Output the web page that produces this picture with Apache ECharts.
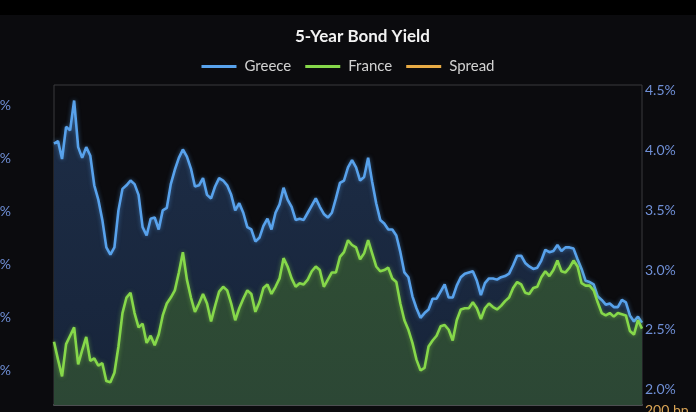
<!DOCTYPE html>
<html>
<head>
<meta charset="utf-8">
<style>
html,body{margin:0;padding:0;background:#0b0b0e;}
#chart{width:696px;height:412px;}
</style>
<script src="https://cdn.jsdelivr.net/npm/echarts@6/dist/echarts.min.js"></script>
</head>
<body>
<div id="chart"></div>
<script>
// Greece 5-year yield (%)
const greece = [
4.06,4.08,3.93,4.20,4.17,4.42,4.03,3.94,4.03,3.96,
3.71,3.59,3.42,3.19,3.13,3.19,3.50,3.68,3.71,3.75,
3.72,3.63,3.36,3.29,3.43,3.44,3.34,3.50,3.52,3.72,
3.84,3.94,4.01,3.95,3.85,3.70,3.71,3.77,3.63,3.60,
3.70,3.77,3.75,3.71,3.63,3.50,3.56,3.48,3.36,3.34,
3.24,3.27,3.37,3.43,3.34,3.48,3.55,3.69,3.59,3.53,
3.42,3.43,3.42,3.48,3.54,3.60,3.53,3.47,3.44,3.48,
3.60,3.73,3.75,3.86,3.92,3.86,3.75,3.78,3.94,3.74,
3.56,3.42,3.39,3.34,3.34,3.29,3.15,2.98,2.94,2.78,
2.68,2.60,2.64,2.67,2.76,2.76,2.82,2.88,2.77,2.77,
2.87,2.94,2.97,2.98,2.99,2.91,2.79,2.89,2.93,2.93,
2.92,2.94,2.95,2.97,3.04,3.12,3.12,3.06,3.03,3.01,
3.02,3.08,3.17,3.15,3.16,3.21,3.16,3.19,3.19,3.18,
3.09,3.01,2.91,2.90,2.88,2.78,2.75,2.71,2.72,2.69,
2.69,2.75,2.73,2.62,2.57,2.61,2.56
];
// France 5-year yield (%)
const france = [
2.40,2.25,2.11,2.38,2.45,2.52,2.21,2.33,2.44,2.24,
2.26,2.20,2.22,2.07,2.06,2.14,2.36,2.64,2.77,2.81,
2.64,2.52,2.55,2.39,2.45,2.37,2.46,2.62,2.72,2.77,
2.83,2.98,3.15,2.92,2.77,2.65,2.72,2.80,2.72,2.57,
2.70,2.82,2.86,2.83,2.72,2.58,2.68,2.76,2.83,2.80,
2.65,2.73,2.85,2.88,2.80,2.86,2.93,3.10,3.03,2.93,
2.86,2.89,2.88,2.92,2.99,3.03,3.00,2.86,2.92,2.98,
2.98,3.11,3.15,3.25,3.21,3.19,3.09,3.14,3.25,3.14,
3.03,2.99,3.00,3.02,2.93,2.90,2.72,2.58,2.50,2.39,
2.25,2.16,2.18,2.36,2.41,2.45,2.53,2.54,2.50,2.41,
2.58,2.67,2.68,2.68,2.73,2.68,2.59,2.68,2.72,2.69,
2.67,2.70,2.74,2.77,2.85,2.90,2.88,2.81,2.80,2.85,
2.86,2.94,2.99,2.95,3.00,3.08,2.99,2.98,3.02,3.08,
3.03,2.89,2.87,2.87,2.83,2.73,2.64,2.62,2.64,2.61,
2.64,2.63,2.62,2.49,2.46,2.58,2.51
];
// Greece - France spread (bp), panel below the visible area
const spread = [
166,183,182,182,172,190,182,161,159,172,
145,139,120,112,107,105,114,104,94,94,
108,111,81,90,98,107,88,88,80,95,
101,96,86,103,108,105,99,97,91,103,
100,95,89,88,91,92,88,72,53,54,
59,54,52,55,54,62,62,59,56,60,
56,54,54,56,55,57,53,61,52,50,
62,62,60,61,71,67,66,64,69,60,
53,43,39,32,41,39,43,40,44,39,
43,44,46,31,35,31,29,34,27,36,
29,27,29,30,26,23,20,21,21,24,
25,24,21,20,19,22,24,25,23,16,
16,14,18,20,16,13,17,21,17,10,
6,12,4,3,5,5,11,9,8,8,
5,12,11,13,11,3,5
];
const rightTicks = [2.0, 2.5, 3.0, 3.5, 4.0, 4.5];
const leftTicks = [1.0, 1.5, 2.0, 2.5, 3.0, 3.5];

// weekly date categories (axis hidden)
const categories = [];
(function(){
  const d0 = new Date(Date.UTC(2022, 8, 5));
  for (let i = 0; i < greece.length; i++) {
    const d = new Date(d0.getTime() + i * 7 * 86400000);
    categories.push(d.toISOString().slice(0, 10));
  }
})();

const FONT = 'Lato, "Open Sans", sans-serif';
const chart = echarts.init(document.getElementById('chart'), null, {renderer: 'canvas'});
chart.setOption({
  backgroundColor: '#0b0b0e',
  animation: false,
  graphic: [{
    type: 'rect', left: 0, top: 0, z: -10,
    shape: {width: 696, height: 15},
    style: {fill: '#000000'}
  }],
  title: {
    text: '5-Year Bond Yield',
    left: 290, top: 23,
    textStyle: {color: '#f2f2f2', fontFamily: FONT, fontWeight: 'bold', fontSize: 17}
  },
  legend: {
    top: 54, left: 'center',
    icon: 'rect', itemWidth: 35, itemHeight: 3, itemGap: 14,
    textStyle: {color: '#d2d2d2', fontFamily: FONT, fontSize: 15, padding: [0, 0, 0, 3]},
    data: ['Greece', 'France', 'Spread']
  },
  grid: [
    {left: 54, right: 54, top: 85, bottom: 7, containLabel: false, outerBoundsMode: 'none',
     show: true, borderColor: '#3a3a3c', borderWidth: 1, backgroundColor: 'transparent'},
    {left: 54, right: 54, top: 410, height: 150, containLabel: false, outerBoundsMode: 'none', show: false}
  ],
  xAxis: [
    {type: 'category', gridIndex: 0, data: categories, boundaryGap: false,
     axisLine: {show: true, lineStyle: {color: '#4d4f52', width: 2}},
     axisTick: {show: false}, axisLabel: {show: false}, splitLine: {show: false}},
    {type: 'category', gridIndex: 1, data: categories, boundaryGap: false, show: false}
  ],
  yAxis: [
    {type: 'value', gridIndex: 0, position: 'right', min: 1.87, max: 4.55,
     axisLine: {show: false}, axisTick: {show: false}, splitLine: {show: false},
     axisLabel: {customValues: rightTicks, margin: 3, color: '#6f8fd6', fontFamily: FONT, fontSize: 14,
       formatter: v => v.toFixed(1) + '%'}},
    {type: 'value', gridIndex: 0, position: 'left', min: 0.68, max: 3.688,
     axisLine: {show: false}, axisTick: {show: false}, splitLine: {show: false},
     axisLabel: {customValues: leftTicks, margin: 43, color: '#6f8fd6', fontFamily: FONT, fontSize: 14,
       formatter: v => v.toFixed(1) + '%'}},
    {type: 'value', gridIndex: 1, position: 'right', min: 0, max: 200, interval: 100,
     axisLine: {show: false}, axisTick: {show: false}, splitLine: {show: false},
     axisLabel: {margin: 3, color: '#d9a455', fontFamily: FONT, fontSize: 14,
       formatter: v => v + ' bp'}}
  ],
  series: [
    {name: 'Greece', type: 'line', xAxisIndex: 0, yAxisIndex: 0, data: greece,
     symbol: 'none', smooth: false, z: 3,
     lineStyle: {color: '#58a2ec', width: 2.6, shadowBlur: 4, shadowColor: 'rgba(88,162,236,0.5)'},
     itemStyle: {color: '#58a2ec'},
     areaStyle: {color: {type: 'linear', x: 0, y: 0, x2: 0, y2: 1,
       colorStops: [{offset: 0, color: '#1d2d46'}, {offset: 1, color: '#17243a'}]}, opacity: 1}},
    {name: 'France', type: 'line', xAxisIndex: 0, yAxisIndex: 0, data: france,
     symbol: 'none', smooth: false, z: 4,
     lineStyle: {color: '#86d84a', width: 2.6, shadowBlur: 4, shadowColor: 'rgba(134,216,74,0.5)'},
     itemStyle: {color: '#86d84a'},
     areaStyle: {color: {type: 'linear', x: 0, y: 0, x2: 0, y2: 1,
       colorStops: [{offset: 0, color: '#2f4d34'}, {offset: 1, color: '#2c4735'}]}, opacity: 1}},
    {name: 'Spread', type: 'line', xAxisIndex: 1, yAxisIndex: 2, data: spread,
     symbol: 'none', smooth: false,
     lineStyle: {color: '#e8ab45', width: 2},
     itemStyle: {color: '#e8ab45'}}
  ]
});
</script>
</body>
</html>
